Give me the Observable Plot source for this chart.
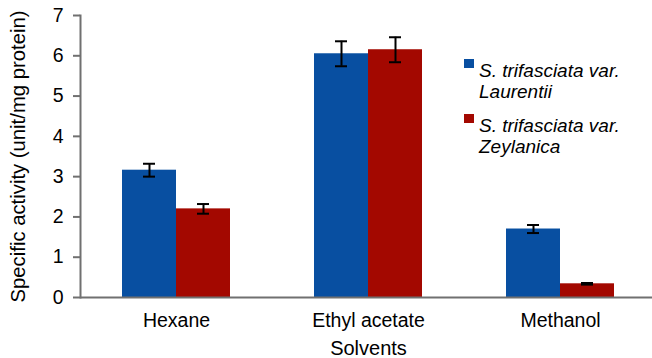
<!DOCTYPE html>
<html>
<head>
<meta charset="utf-8">
<script src="https://cdn.jsdelivr.net/npm/d3@7"></script>
<script src="https://cdn.jsdelivr.net/npm/@observablehq/plot@0.6"></script>
<style>
  html, body { margin: 0; padding: 0; background: #fff; overflow: hidden; }
  #wrap { position: relative; width: 652px; height: 358px; font-family: "Liberation Sans", Arial, sans-serif; }
  #legend { position: absolute; left: 464px; top: 0; font-style: italic; font-size: 19px; line-height: 21px; color: #000; }
  .item { position: absolute; left: 0; white-space: nowrap; }
  .sw { position: absolute; left: 0; width: 10px; height: 9px; }
  .lab { position: absolute; left: 15px; }
</style>
</head>
<body>
<div id="wrap"><div id="legend"></div></div>
<script>
const solvents = ["Hexane", "Ethyl acetate", "Methanol"];
const series = ["S. trifasciata var. Laurentii", "S. trifasciata var. Zeylanica"];
const legendLines = [["S. trifasciata var.", "Laurentii"], ["S. trifasciata var.", "Zeylanica"]];
const laurentii = [3.16, 6.05, 1.70];
const laurentiiErr = [0.16, 0.31, 0.10];
const zeylanica = [2.20, 6.15, 0.34];
const zeylanicaErr = [0.12, 0.31, 0.02];
const yTicks = [0, 1, 2, 3, 4, 5, 6, 7];
const yTitle = "Specific activity (unit/mg protein)";
const xTitle = "Solvents";
const colors = ["#084fa1", "#a30800"];

const data = [];
solvents.forEach((s, i) => {
  data.push({solvent: s, series: series[0], value: laurentii[i], err: laurentiiErr[i]});
  data.push({solvent: s, series: series[1], value: zeylanica[i], err: zeylanicaErr[i]});
});

const chart = Plot.plot({
  width: 652,
  height: 358,
  marginLeft: 80,
  marginRight: -4,
  marginTop: 15,
  marginBottom: 61,
  style: {fontFamily: '"Liberation Sans", Arial, sans-serif', fontSize: "19.5px", color: "#000", background: "#fff", overflow: "visible"},
  fx: {domain: solvents, paddingInner: 0, paddingOuter: 0, label: null},
  x: {domain: series, paddingInner: 0, paddingOuter: 0.76, axis: null},
  y: {domain: [0, 7], axis: null},
  color: {domain: series, range: colors},
  marks: [
    Plot.barY(data, {fx: "solvent", x: "series", y: "value", fill: "series"}),
    Plot.ruleX(data, {fx: "solvent", x: "series", y1: d => d.value - d.err, y2: d => d.value + d.err, stroke: "#000", strokeWidth: 2}),
    Plot.tickY(data, {fx: "solvent", x: "series", y: d => d.value - d.err, stroke: "#000", strokeWidth: 2, insetLeft: 21, insetRight: 21}),
    Plot.tickY(data, {fx: "solvent", x: "series", y: d => d.value + d.err, stroke: "#000", strokeWidth: 2, insetLeft: 21, insetRight: 21}),
    Plot.ruleY([0], {stroke: "#707070", strokeWidth: 2}),
    Plot.frame({anchor: "left", facetAnchor: "left", stroke: "#707070", strokeWidth: 2}),
    Plot.axisY(yTicks, {anchor: "left", tickSize: 7, tickPadding: 10, stroke: "#707070", strokeWidth: 2, fill: "#000", fontSize: 19.5, label: null}),
    Plot.axisFx({anchor: "bottom", tickSize: 0, tickPadding: 16, fontSize: 19.5, label: null}),
    Plot.text([yTitle], {text: d => d, frameAnchor: "left", facetAnchor: "left", rotate: -90, dx: -62, lineAnchor: "middle", textAnchor: "middle", fontSize: 20.3, fill: "#000"}),
    Plot.text([{fx: solvents[1], t: xTitle}], {fx: "fx", text: "t", frameAnchor: "bottom", dy: 51.5, lineAnchor: "middle", textAnchor: "middle", fontSize: 20, fill: "#000"})
  ]
});
const wrap = document.getElementById("wrap");
wrap.insertBefore(chart, wrap.firstChild);

const legend = document.getElementById("legend");
const tops = [60, 115];
series.forEach((s, i) => {
  const item = document.createElement("div");
  item.className = "item";
  item.style.top = tops[i] + "px";
  const sw = document.createElement("div");
  sw.className = "sw";
  sw.style.background = colors[i];
  sw.style.top = "-1px";
  const lab = document.createElement("div");
  lab.className = "lab";
  lab.innerHTML = legendLines[i].join("<br>");
  item.appendChild(sw);
  item.appendChild(lab);
  legend.appendChild(item);
});
</script>
</body>
</html>
